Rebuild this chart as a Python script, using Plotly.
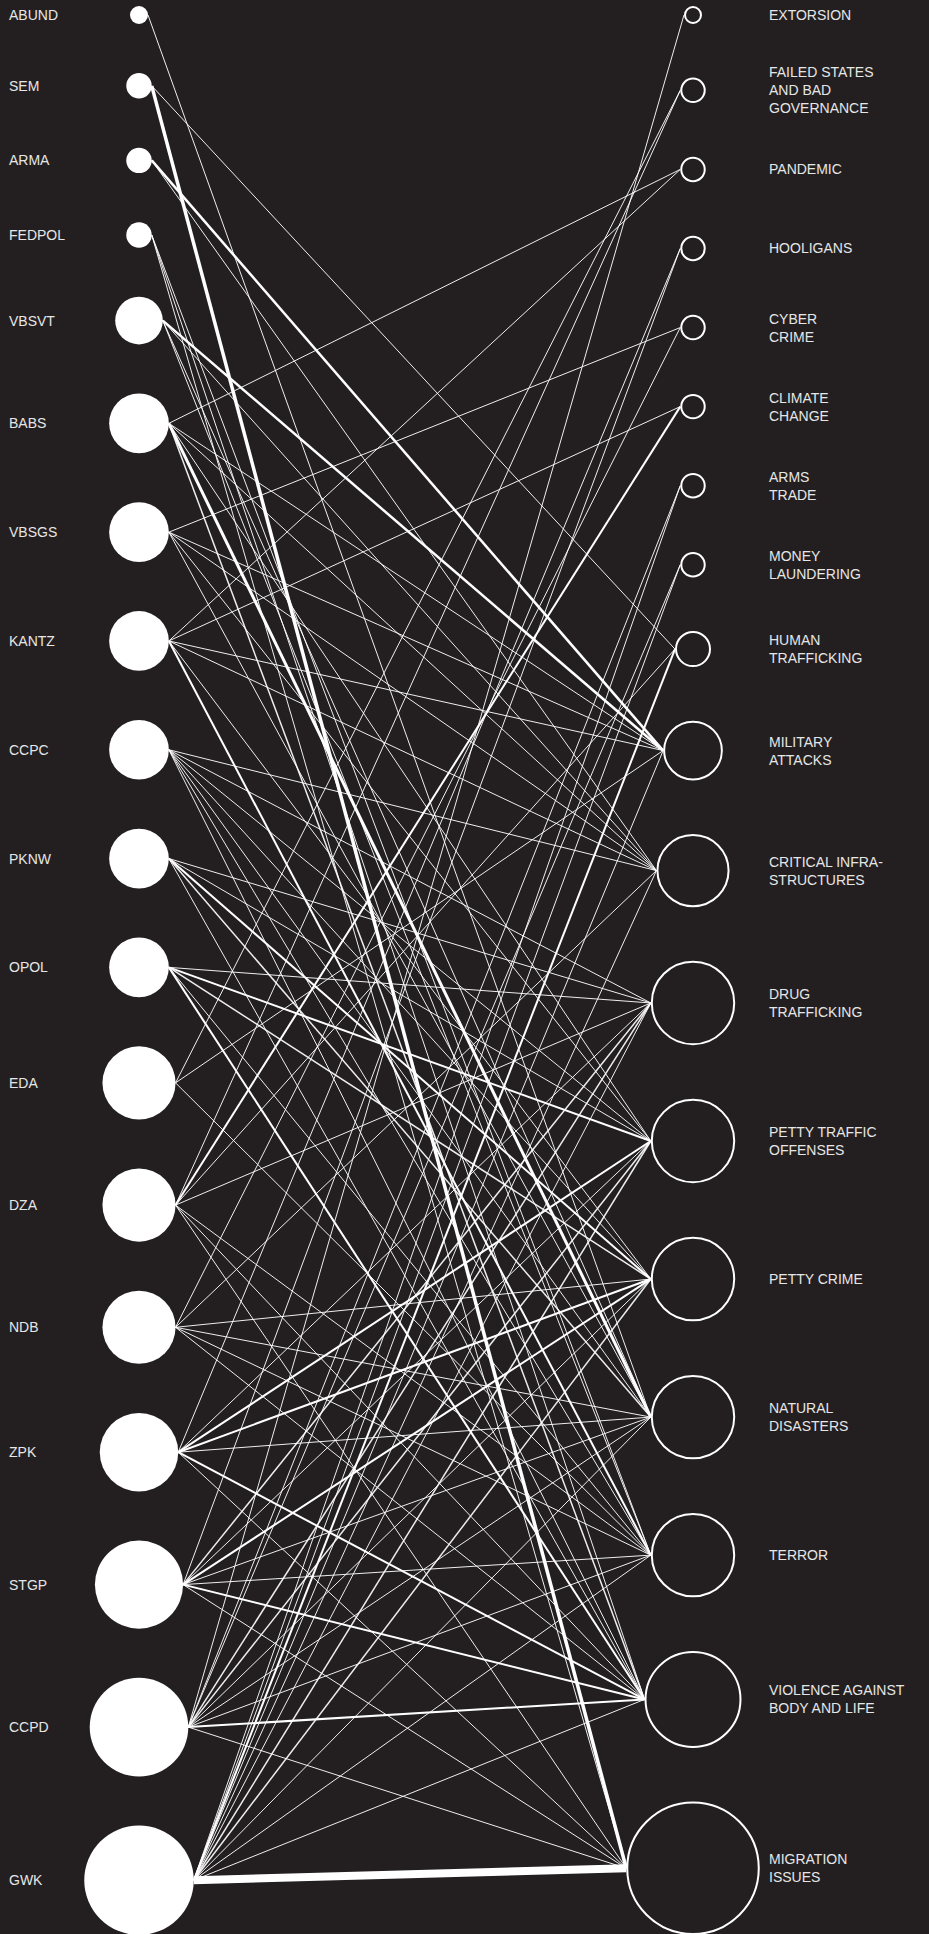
import math
import plotly.graph_objects as go

W, H = 929, 1934
BG = "#231f20"
INK = "#ffffff"
TXT = "#e6e6e6"

# ---------------- data ----------------
left_names = ["ABUND", "SEM", "ARMA", "FEDPOL", "VBSVT", "BABS", "VBSGS", "KANTZ", "CCPC",
              "PKNW", "OPOL", "EDA", "DZA", "NDB", "ZPK", "STGP", "CCPD", "GWK"]
left_values = [1, 2, 2, 2, 7, 11, 11, 11, 11, 11, 11, 16.5, 16.5, 16.5, 19, 24, 30, 37]

right_keys = ["EXT", "FAIL", "PAND", "HOOL", "CYB", "CLIM", "ARMS", "MONEY", "HUMAN", "MIL",
              "CRIT", "DRUG", "PTRAF", "PCRIME", "NAT", "TERR", "VIOL", "MIGR"]
right_labels = ["EXTORSION", "FAILED STATES<br>AND BAD<br>GOVERNANCE", "PANDEMIC", "HOOLIGANS",
                "CYBER<br>CRIME", "CLIMATE<br>CHANGE", "ARMS<br>TRADE", "MONEY<br>LAUNDERING",
                "HUMAN<br>TRAFFICKING", "MILITARY<br>ATTACKS", "CRITICAL INFRA-<br>STRUCTURES",
                "DRUG<br>TRAFFICKING", "PETTY TRAFFIC<br>OFFENSES", "PETTY CRIME",
                "NATURAL<br>DISASTERS", "TERROR", "VIOLENCE AGAINST<br>BODY AND LIFE",
                "MIGRATION<br>ISSUES"]
right_values = [1, 2, 2, 2, 2, 2, 2, 2, 4, 11, 16.5, 22, 22, 22, 22, 22, 29, 55]

# (left node, right node, link strength)
edges = [
    ("ABUND", "NAT", 1),
    ("SEM", "HUMAN", 1), ("SEM", "MIGR", 3.5),
    ("ARMA", "MIL", 2.5), ("ARMA", "CRIT", 1),
    ("FEDPOL", "TERR", 1), ("FEDPOL", "VIOL", 1), ("FEDPOL", "MIGR", 1),
    ("VBSVT", "MIL", 2.5), ("VBSVT", "CRIT", 1), ("VBSVT", "NAT", 1), ("VBSVT", "TERR", 1),
    ("BABS", "PAND", 1), ("BABS", "MIL", 1), ("BABS", "CRIT", 1), ("BABS", "PTRAF", 1),
    ("BABS", "NAT", 3), ("BABS", "VIOL", 1.5),
    ("VBSGS", "CYB", 1), ("VBSGS", "MIL", 1), ("VBSGS", "CRIT", 1), ("VBSGS", "PTRAF", 1),
    ("VBSGS", "NAT", 1),
    ("KANTZ", "PAND", 1), ("KANTZ", "CLIM", 1), ("KANTZ", "MIL", 1), ("KANTZ", "CRIT", 1),
    ("KANTZ", "PCRIME", 1), ("KANTZ", "TERR", 2),
    ("CCPC", "CRIT", 1), ("CCPC", "DRUG", 1), ("CCPC", "PTRAF", 1), ("CCPC", "PCRIME", 1),
    ("CCPC", "NAT", 1), ("CCPC", "TERR", 1), ("CCPC", "VIOL", 1),
    ("PKNW", "DRUG", 1), ("PKNW", "PTRAF", 1), ("PKNW", "PCRIME", 2), ("PKNW", "NAT", 1.5),
    ("PKNW", "VIOL", 1),
    ("OPOL", "DRUG", 1), ("OPOL", "PTRAF", 2), ("OPOL", "PCRIME", 1.5), ("OPOL", "TERR", 1),
    ("OPOL", "VIOL", 2),
    ("EDA", "FAIL", 1), ("EDA", "MIL", 1), ("EDA", "TERR", 1),
    ("DZA", "FAIL", 1), ("DZA", "CLIM", 2), ("DZA", "HUMAN", 1), ("DZA", "DRUG", 1),
    ("DZA", "TERR", 1), ("DZA", "VIOL", 1), ("DZA", "MIGR", 1),
    ("NDB", "CYB", 1), ("NDB", "CRIT", 1), ("NDB", "PCRIME", 1), ("NDB", "NAT", 1),
    ("NDB", "TERR", 1), ("NDB", "VIOL", 1),
    ("ZPK", "HOOL", 1), ("ZPK", "DRUG", 1), ("ZPK", "PTRAF", 2), ("ZPK", "PCRIME", 2),
    ("ZPK", "NAT", 1), ("ZPK", "VIOL", 2), ("ZPK", "MIGR", 1),
    ("STGP", "HOOL", 1), ("STGP", "DRUG", 1.5), ("STGP", "PTRAF", 1), ("STGP", "PCRIME", 2),
    ("STGP", "NAT", 1), ("STGP", "TERR", 1), ("STGP", "VIOL", 2), ("STGP", "MIGR", 1),
    ("CCPD", "EXT", 1), ("CCPD", "ARMS", 1), ("CCPD", "MONEY", 1), ("CCPD", "DRUG", 1.5),
    ("CCPD", "PTRAF", 1.5), ("CCPD", "PCRIME", 1), ("CCPD", "NAT", 1), ("CCPD", "TERR", 1),
    ("CCPD", "VIOL", 2), ("CCPD", "MIGR", 1),
    ("GWK", "ARMS", 1), ("GWK", "MONEY", 1), ("GWK", "HUMAN", 2), ("GWK", "MIL", 1),
    ("GWK", "CRIT", 1), ("GWK", "DRUG", 1), ("GWK", "PTRAF", 1.5), ("GWK", "PCRIME", 1.5),
    ("GWK", "NAT", 1), ("GWK", "TERR", 1), ("GWK", "VIOL", 1), ("GWK", "MIGR", 8),
]

# ---------------- layout helpers ----------------
K = 9.0          # radius scale: r = K * sqrt(value)
TOP, BOTTOM = 6, 1935
LX, RX = 139, 693


def column(values):
    r = [K * math.sqrt(v) for v in values]
    pad = (BOTTOM - TOP - 2 * sum(r)) / (len(r) - 1)
    ys, y = [], TOP
    for ri in r:
        y += ri
        ys.append(y)
        y += ri + pad
    return r, ys


lr, ly = column(left_values)
rr, ry = column(right_values)
li = {n: i for i, n in enumerate(left_names)}
ri_ = {n: i for i, n in enumerate(right_keys)}

fig = go.Figure()

# links, grouped by width
widths = sorted(set(e[2] for e in edges))
for w in widths:
    xs, ys = [], []
    for a, b, s in edges:
        if s != w:
            continue
        i, j = li[a], ri_[b]
        xs += [LX + lr[i], RX - rr[j], None]
        ys += [ly[i], ry[j], None]
    fig.add_trace(go.Scatter(x=xs, y=ys, mode="lines",
                             line=dict(color="rgba(255,255,255,0.92)" if w < 2 else INK, width=w),
                             hoverinfo="skip", showlegend=False))

# left nodes: filled
fig.add_trace(go.Scatter(x=[LX] * len(left_names), y=ly, mode="markers",
                         marker=dict(size=[2 * r for r in lr], color=INK, opacity=1,
                                     line=dict(width=0)),
                         hoverinfo="skip", showlegend=False))
# right nodes: outlined
fig.add_trace(go.Scatter(x=[RX] * len(right_keys), y=ry, mode="markers",
                         marker=dict(size=[2 * r - 2 for r in rr], color=BG, opacity=1,
                                     line=dict(width=2, color=INK)),
                         hoverinfo="skip", showlegend=False))

FONT = dict(family="Liberation Sans, Arial, sans-serif", size=14, color=TXT)
annotations = []
for n, y in zip(left_names, ly):
    annotations.append(dict(x=7, y=y, xref="x", yref="y", text=n, showarrow=False,
                            xanchor="left", yanchor="middle", align="left", font=FONT))
for t, y in zip(right_labels, ry):
    annotations.append(dict(x=767, y=y, xref="x", yref="y", text=t, showarrow=False,
                            xanchor="left", yanchor="middle", align="left", font=FONT))

fig.update_layout(
    width=W, height=H, autosize=False,
    margin=dict(l=0, r=0, t=0, b=0),
    paper_bgcolor=BG, plot_bgcolor=BG,
    xaxis=dict(range=[0, W], visible=False, fixedrange=True),
    yaxis=dict(range=[H, 0], visible=False, fixedrange=True),
    showlegend=False,
    annotations=annotations,
)

fig.write_html(
    "out.html",
    config={"displayModeBar": False},
    post_script="document.body.style.margin='0';document.body.style.padding='0';"
                "document.body.style.background='#231f20';"
                "document.body.style.overflow='hidden';",
)
